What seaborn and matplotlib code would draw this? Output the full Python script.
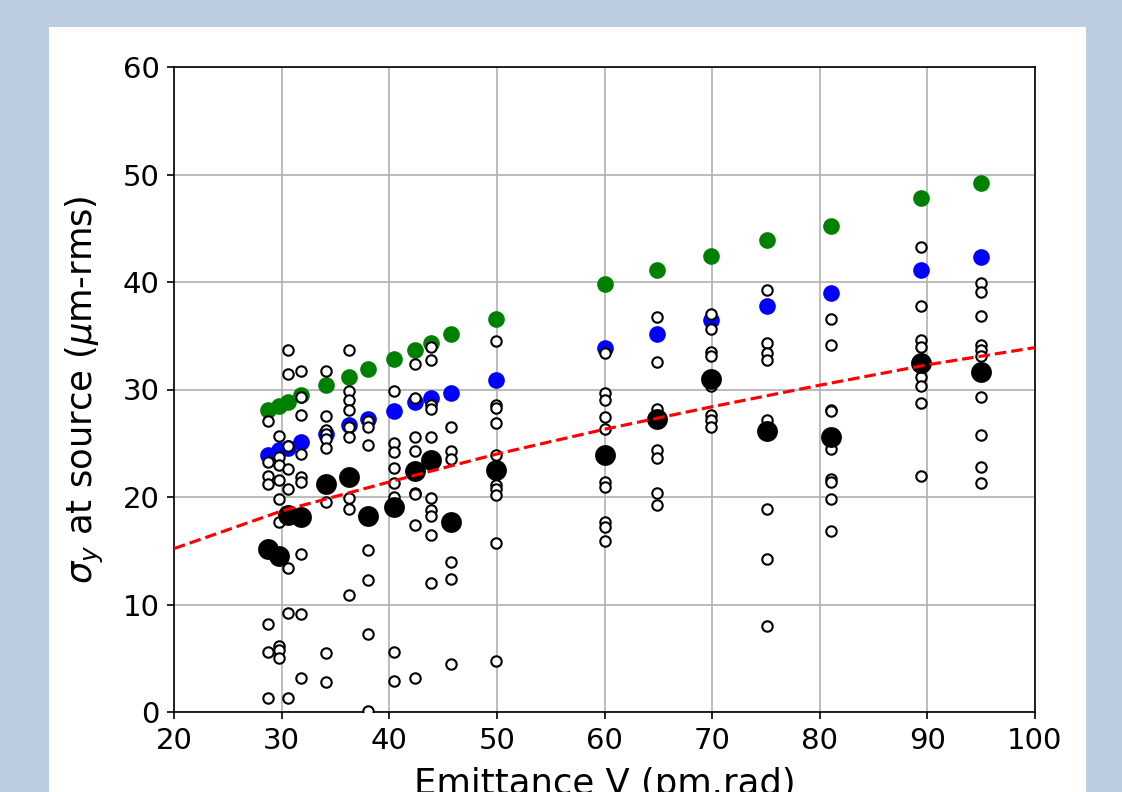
import numpy as np
import pandas as pd
import matplotlib
matplotlib.use('Agg')
import matplotlib.pyplot as plt
from matplotlib.patches import Rectangle
import seaborn as sns

# emittance V columns (pm.rad)
emit = [28.7, 29.8, 30.6, 31.8, 34.1, 36.3, 38.0, 40.4, 42.4, 43.9, 45.7,
        49.9, 60.0, 64.9, 69.9, 75.1, 81.0, 89.4, 95.0]

# individual samples per emittance column (um-rms)
samples = [
    [27.1, 23.3, 22.0, 21.2, 8.2, 5.6, 1.3],
    [25.7, 23.7, 23.0, 21.6, 19.8, 17.7, 6.1, 5.8, 5.0],
    [33.7, 31.4, 24.7, 22.6, 20.7, 13.4, 9.2, 1.3],
    [31.7, 29.3, 27.6, 24.0, 21.9, 21.4, 14.7, 9.1, 3.2],
    [31.7, 27.5, 26.2, 25.9, 25.4, 24.6, 19.5, 5.5, 2.8],
    [33.7, 29.9, 29.0, 28.1, 26.5, 25.6, 19.9, 18.9, 10.9],
    [27.1, 26.5, 24.8, 15.1, 12.3, 7.3, 0.1],
    [29.9, 25.0, 24.2, 22.7, 21.3, 20.0, 5.6, 2.9],
    [32.4, 29.2, 25.6, 24.3, 20.4, 20.3, 17.4, 3.2],
    [34.0, 32.7, 28.6, 28.2, 25.6, 19.9, 18.8, 18.2, 16.5, 12.0],
    [26.5, 24.3, 23.5, 14.0, 12.4, 4.5],
    [34.5, 28.6, 28.3, 26.9, 23.9, 21.1, 20.7, 20.2, 15.7, 4.7],
    [33.4, 29.7, 29.0, 27.4, 26.3, 21.4, 20.9, 17.7, 17.2, 15.9],
    [36.7, 32.6, 28.2, 24.4, 23.6, 20.4, 19.3],
    [37.0, 35.6, 33.5, 33.1, 30.3, 27.6, 27.2, 26.5],
    [39.3, 34.3, 33.4, 32.7, 27.2, 18.9, 14.2, 8.0],
    [36.6, 34.1, 28.1, 28.0, 24.5, 21.7, 21.4, 19.8, 16.8],
    [43.3, 37.8, 34.6, 34.0, 32.0, 31.2, 30.3, 28.7, 22.0],
    [39.9, 39.1, 36.8, 34.1, 33.7, 33.1, 29.3, 25.8, 22.8, 21.3],
]

sig_mean = [15.2, 14.5, 18.3, 18.1, 21.2, 21.9, 18.2, 19.1, 22.4, 23.4, 17.7,
            22.5, 23.9, 27.3, 31.0, 26.1, 25.6, 32.5, 31.6]
sig_blue = [23.9, 24.4, 24.6, 25.1, 25.9, 26.7, 27.3, 28.0, 28.8, 29.2, 29.7,
            30.9, 33.9, 35.2, 36.5, 37.8, 39.0, 41.1, 42.3]
sig_green = [28.1, 28.5, 28.8, 29.5, 30.4, 31.2, 31.9, 32.8, 33.7, 34.3, 35.2,
             36.6, 39.8, 41.1, 42.4, 43.9, 45.2, 47.8, 49.2]

# dashed fit curve
fit_x = [20, 30, 40, 50, 60, 70, 80, 90, 100]
fit_y = [15.2, 18.7, 21.4, 24.0, 26.3, 28.4, 30.4, 32.3, 33.9]

# long table for the small circles
pts = pd.DataFrame({
    'emit': [e for e, s in zip(emit, samples) for _ in s],
    'sigma': [v for s in samples for v in s],
})

fig = plt.figure(figsize=(7.48, 5.28), dpi=150, facecolor='#bccde0')
fig.patches.append(Rectangle((49 / 1122, 0), 1037 / 1122, 765 / 792,
                             transform=fig.transFigure, facecolor='white',
                             edgecolor='none', zorder=-1))
ax = fig.add_axes([174 / 1122, 1 - 712 / 792, 861 / 1122, 645 / 792])

sns.scatterplot(x=emit, y=sig_green, color='green', s=64, linewidth=0, ax=ax, zorder=2)
sns.scatterplot(x=emit, y=sig_blue, color='blue', s=64, linewidth=0, ax=ax, zorder=2)
sns.scatterplot(data=pts, x='emit', y='sigma', facecolor='white', edgecolor='black',
                s=25, linewidth=1.0, ax=ax, zorder=3)
sns.scatterplot(x=emit, y=sig_mean, color='black', s=100, linewidth=0, ax=ax, zorder=4)
sns.lineplot(x=fit_x, y=fit_y, color='red', linestyle='--', linewidth=1.5, ax=ax, zorder=5)

ax.set_xlim(20, 100)
ax.set_ylim(0, 60)
ax.set_xticks(range(20, 101, 10))
ax.set_yticks(range(0, 61, 10))
ax.grid(True, color='#b0b0b0', linewidth=0.8)
ax.set_axisbelow(True)
ax.tick_params(labelsize=14)
ax.set_xlabel('Emittance V (pm.rad)', fontsize=17, labelpad=6)
ax.set_ylabel(r'$\sigma_y$ at source ($\mu$m-rms)', fontsize=17, labelpad=8)

fig.savefig('out.png', dpi=150, facecolor=fig.get_facecolor())
